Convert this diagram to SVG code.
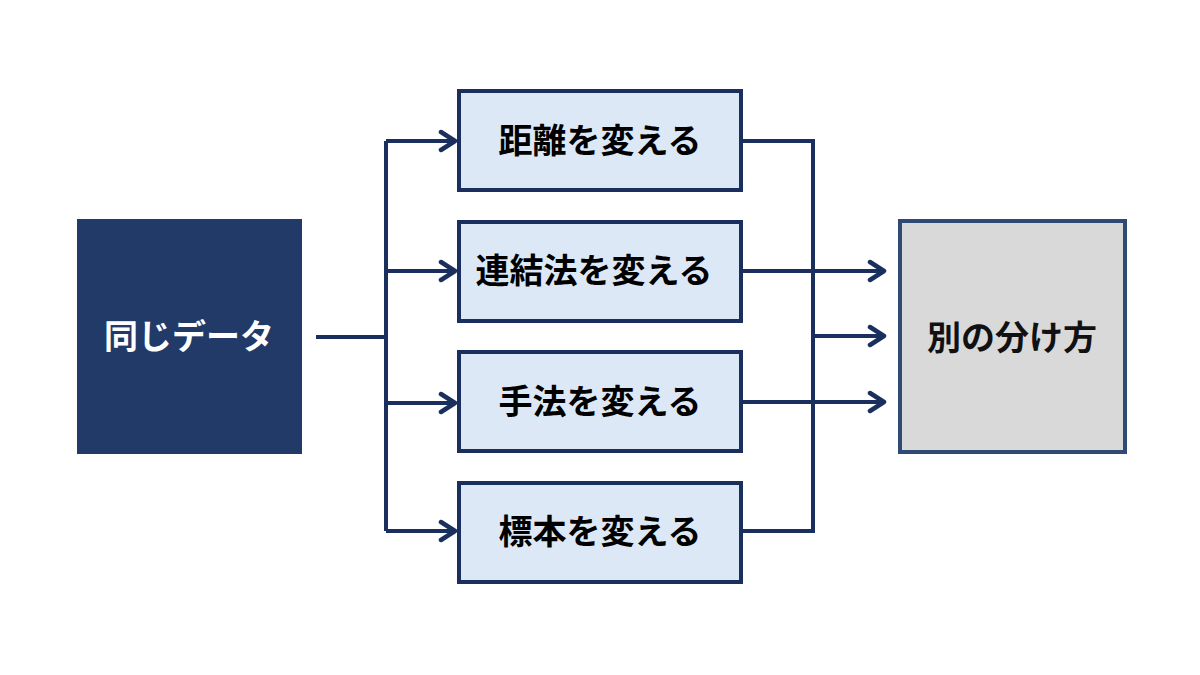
<svg xmlns="http://www.w3.org/2000/svg" width="1200" height="675" viewBox="0 0 1200 675">
<style>
.t{font-family:"Noto Sans CJK JP","Noto Sans",sans-serif;font-weight:bold;font-size:34px;text-anchor:middle;dominant-baseline:central}
.m{fill:#dce8f6;stroke:#1b2f5f;stroke-width:4}
.c{fill:none;stroke:#1b2f5f;stroke-width:4}
</style>
<defs><marker id="a" markerWidth="20" markerHeight="24" refX="17" refY="12" orient="auto" markerUnits="userSpaceOnUse"><path d="M3,3 L17,12 L3,21" fill="none" stroke="#1b2f5f" stroke-width="4.5" stroke-linecap="round" stroke-linejoin="round"/></marker></defs>
<rect width="1200" height="675" fill="#fff"/>
<g id="src"><rect x="77" y="219" width="225" height="235" fill="#213a67"/><text class="t" x="189" y="334" fill="#fff">同じデータ</text></g>
<g id="n1"><rect class="m" x="459" y="91" width="282" height="99"/><text class="t" x="600" y="138">距離を変える</text></g>
<g id="n2"><rect class="m" x="459" y="222" width="282" height="99"/><text class="t" x="594" y="268">連結法を変える</text></g>
<g id="n3"><rect class="m" x="459" y="352" width="282" height="99"/><text class="t" x="600" y="399">手法を変える</text></g>
<g id="n4"><rect class="m" x="459" y="483" width="282" height="99"/><text class="t" x="600" y="529">標本を変える</text></g>
<g id="dst"><rect x="900" y="221" width="225" height="231" fill="#d9d9d9" stroke="#2f4a75" stroke-width="4"/><text class="t" x="1012" y="335" fill="#111">別の分け方</text></g>
<g id="connectors">
<path class="c" d="M316,337 H386 M386,141 V531"/>
<path class="c" d="M386,141 H455" marker-end="url(#a)"/>
<path class="c" d="M386,271 H455" marker-end="url(#a)"/>
<path class="c" d="M386,403 H455" marker-end="url(#a)"/>
<path class="c" d="M386,531 H455" marker-end="url(#a)"/>
<path class="c" d="M741,141 H813 V531 H741"/>
<path class="c" d="M741,271 H884" marker-end="url(#a)"/>
<path class="c" d="M813,336 H884" marker-end="url(#a)"/>
<path class="c" d="M741,402 H884" marker-end="url(#a)"/>
</g>
</svg>
